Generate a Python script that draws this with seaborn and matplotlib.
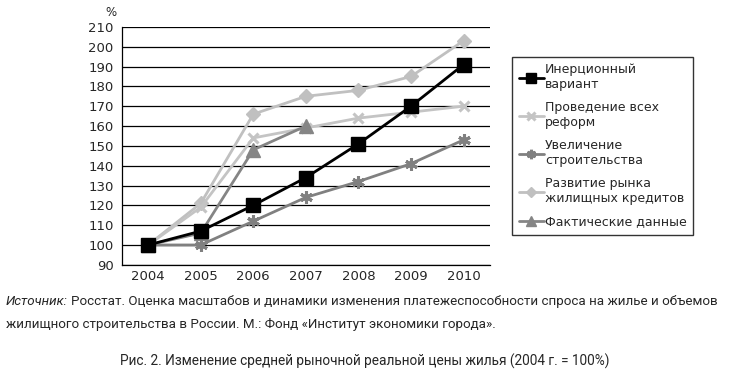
import numpy as np
import pandas as pd
import matplotlib.pyplot as plt
import seaborn as sns
from matplotlib.ticker import FixedLocator

sns.set_style("white")
plt.rcParams['font.family'] = ['DejaVu Sans']

years = ['2004', '2005', '2006', '2007', '2008', '2009', '2010']
inertial = [100, 107, 120, 134, 151, 170, 191]
reforms = [100, 119, 154, 159, 164, 167, 170]
construction = [100, 100, 112, 124, 132, 141, 153]
credit = [100, 121, 166, 175, 178, 185, 203]
actual = [100, 106, 148, 160]

names = ['Инерционный\nвариант', 'Проведение всех\nреформ', 'Увеличение\nстроительства',
         'Развитие рынка\nжилищных кредитов', 'Фактические данные']
series = [inertial, reforms, construction, credit, actual]
colors = ['#000000', '#c4c4c4', '#808080', '#c0c0c0', '#858585']
markers = ['s', 'x', (6, 2, 0), 'D', '^']
msizes = [10, 7, 9, 7, 10]

rows = []
for name, vals in zip(names, series):
    for i, v in enumerate(vals):
        rows.append({'pos': i, 'value': v, 'series': name})
df = pd.DataFrame(rows)

fig = plt.figure(figsize=(7.3, 3.9), dpi=100)
ax = fig.add_axes([0.167, 0.321, 0.504, 0.61])

# draw in z-order so the black line stays on top
order = [3, 1, 4, 2, 0]
for k in order:
    sub = df[df['series'] == names[k]]
    thin = markers[k] in ('x',) or isinstance(markers[k], tuple)
    sns.lineplot(data=sub, x='pos', y='value', color=colors[k], marker=markers[k],
                 markersize=msizes[k], markeredgecolor=colors[k],
                 markeredgewidth=2.2 if thin else 1,
                 linewidth=2, label=names[k], ax=ax, zorder=3 + (k == 0))

ax.set_xlim(-0.5, 6.5)
ax.set_ylim(90, 210)
ax.set_yticks(range(90, 211, 10))
ax.set_xticks(range(7))
ax.set_xticklabels(years)
ax.xaxis.set_minor_locator(FixedLocator(np.arange(-0.5, 7, 1)))
ax.tick_params(axis='x', which='major', length=0, labelsize=9.5, pad=4)
ax.tick_params(axis='x', which='minor', length=4, width=0.8, color='black', direction='out')
ax.tick_params(axis='y', length=4, width=0.8, color='black', direction='out', labelsize=9.5, pad=2)
ax.grid(axis='y', color='black', linewidth=0.9)
ax.set_axisbelow(True)
for s in ['top', 'right']:
    ax.spines[s].set_visible(False)
for s in ['left', 'bottom']:
    ax.spines[s].set_color('black')
    ax.spines[s].set_linewidth(0.9)
ax.set_xlabel('')
ax.set_ylabel('')
ax.text(-0.03, 1.035, '%', transform=ax.transAxes, fontsize=8.5, ha='center', va='bottom')

handles, labels = ax.get_legend_handles_labels()
lookup = dict(zip(labels, handles))
leg = ax.legend([lookup[n] for n in names], names, loc='upper left', bbox_to_anchor=(0.701, 0.855),
                bbox_transform=fig.transFigure, frameon=True, fancybox=False, edgecolor='black',
                fontsize=9, handlelength=2.0, handletextpad=0.1, labelspacing=0.8,
                borderpad=0.55, borderaxespad=0, markerscale=0.75)
leg.get_frame().set_linewidth(1.0)

narrow = ['Roboto', 'DejaVu Sans']
src_size = 9.6
t0 = fig.text(0.008, 0.226, 'Источник:', style='italic', fontsize=src_size, family=narrow, va='center')
renderer = fig.canvas.get_renderer()
w0 = t0.get_window_extent(renderer).width / fig.bbox.width
fig.text(0.008 + w0 + 0.005, 0.226,
         'Росстат. Оценка масштабов и динамики изменения платежеспособности спроса на жилье и объемов',
         fontsize=src_size, family=narrow, va='center')
fig.text(0.008, 0.169, 'жилищного строительства в России. М.: Фонд «Институт экономики города».',
         fontsize=src_size, family=narrow, va='center')
fig.text(0.5, 0.074, 'Рис. 2. Изменение средней рыночной реальной цены жилья (2004 г. = 100%)',
         fontsize=9.8, family=narrow, ha='center', va='center')

fig.savefig('out.png', dpi=100)
